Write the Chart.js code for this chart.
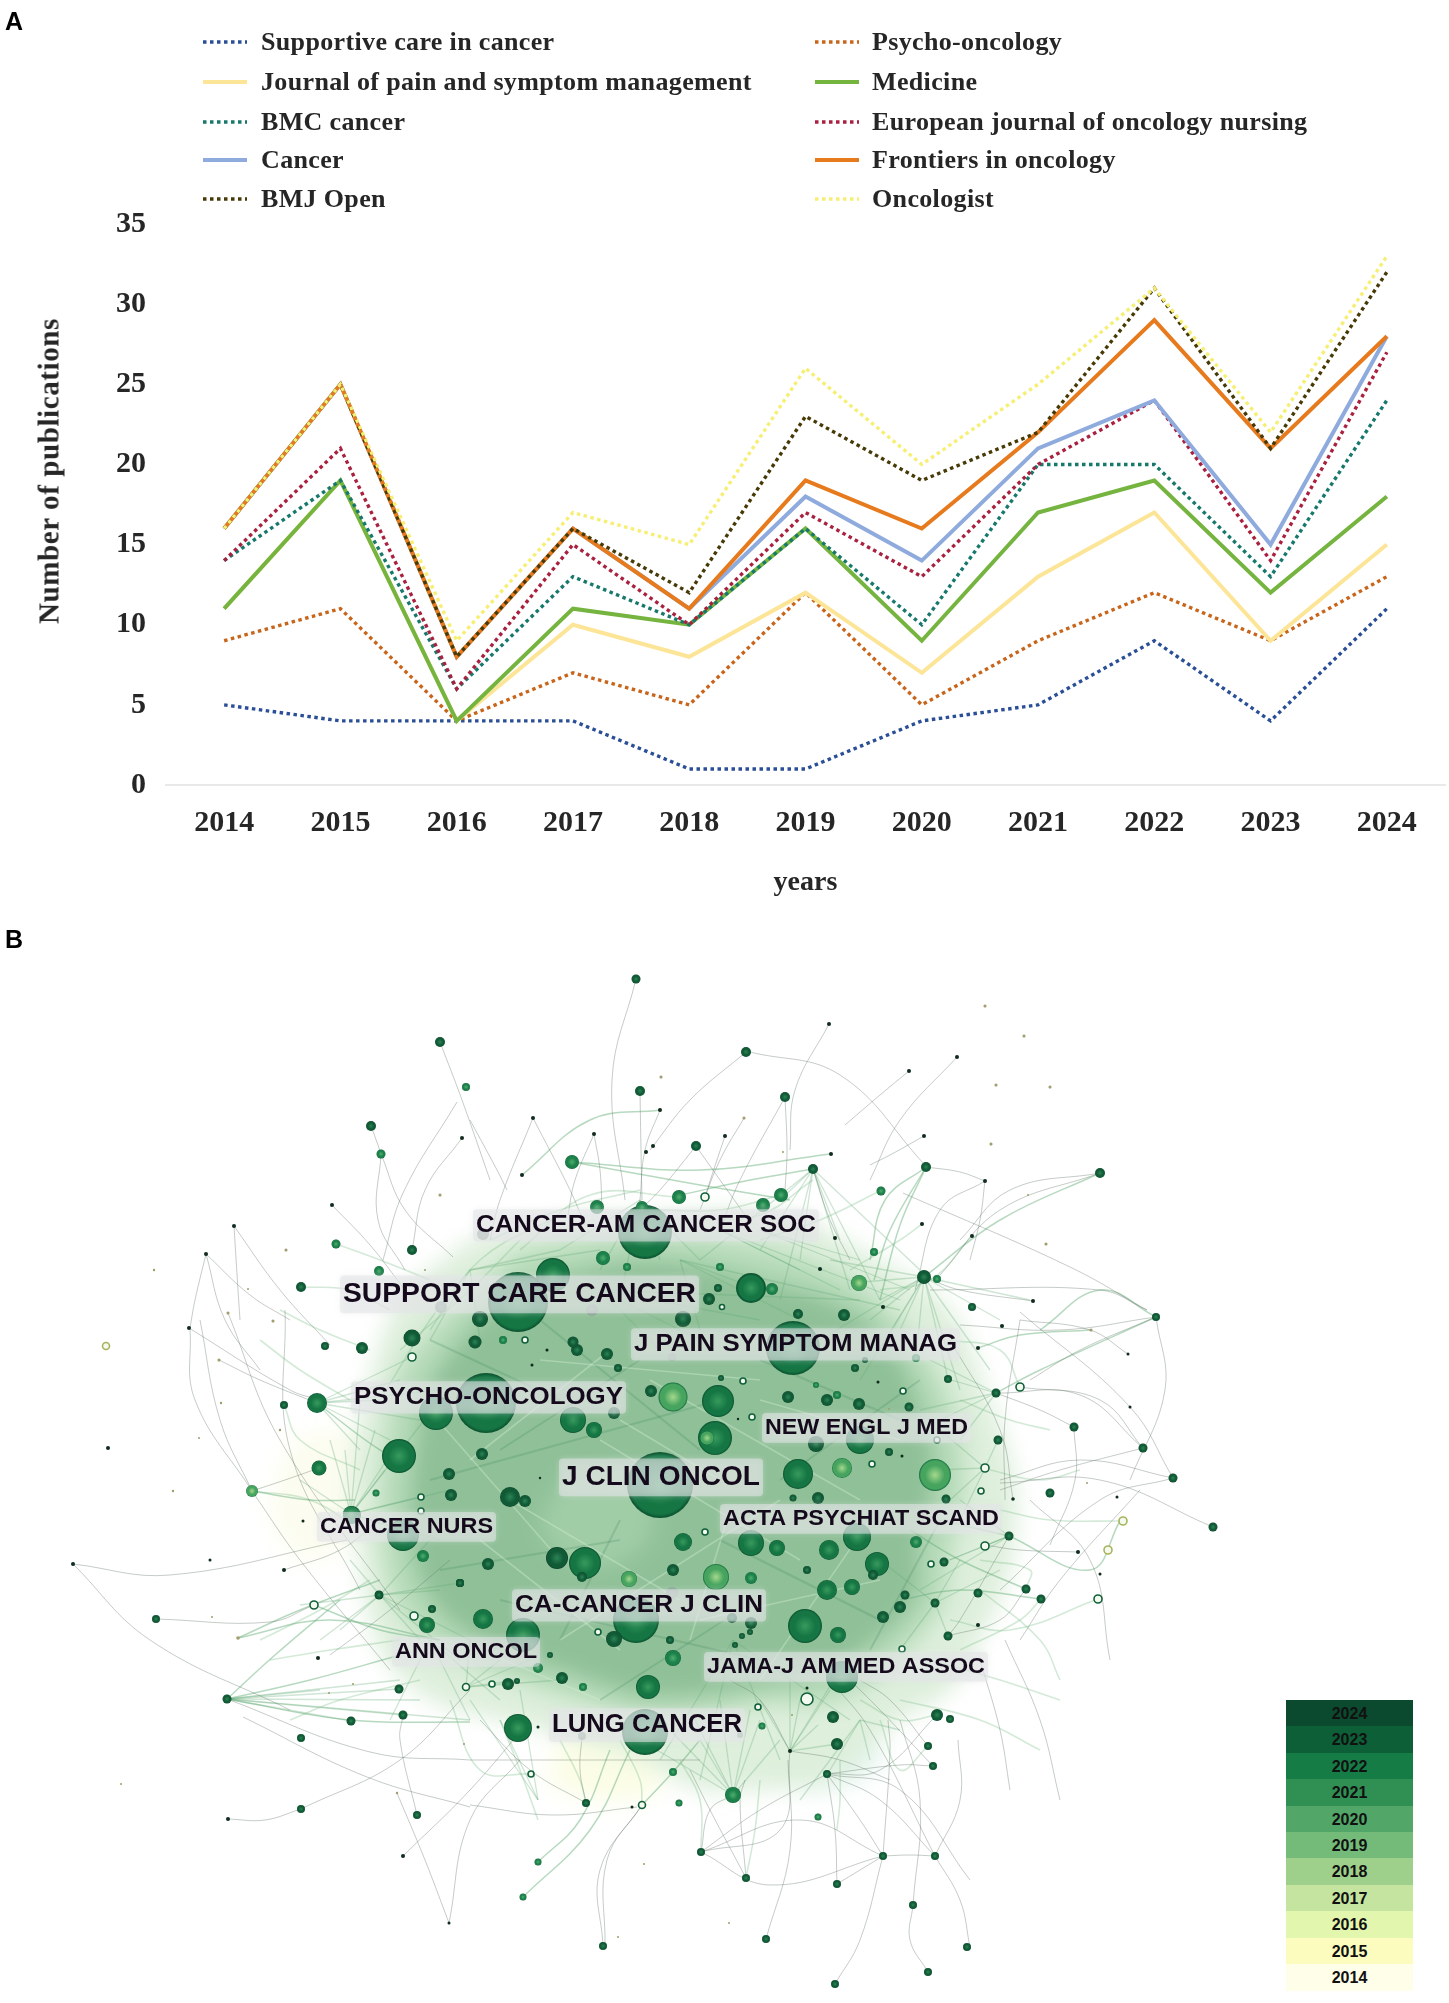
<!DOCTYPE html>
<html><head><meta charset="utf-8">
<style>
html,body{margin:0;padding:0;background:#fff;width:1449px;height:2003px;overflow:hidden}
#wrap{position:relative;width:1449px;height:2003px}
canvas{position:absolute;left:0}
.t{position:absolute;white-space:nowrap}
.serif{font-family:"Liberation Serif",serif;font-weight:bold;color:#262626}
.panel{font-family:"Liberation Sans",Arial,sans-serif;font-weight:bold;font-size:25px;color:#000;left:5px}
.cell{position:absolute;left:1286px;width:127px;height:27px;line-height:27px;text-align:center;font:bold 16px/27px "Liberation Sans",Arial,sans-serif;color:#111}
</style></head><body>
<div id="wrap">
<canvas id="a" style="top:0;width:1449px;height:920px" width="1449" height="920"></canvas>
<canvas id="haze" style="top:920px;width:1449px;height:1083px;filter:blur(11px)" width="1449" height="1083"></canvas>
<canvas id="b" style="top:920px;width:1449px;height:1083px;filter:blur(.45px)" width="1449" height="1083"></canvas>
<div id="overlay"></div>
</div>
<script src="https://cdn.jsdelivr.net/npm/chart.js@4"></script>
<script>
/* ---------- Panel A ---------- */
const years=["2014","2015","2016","2017","2018","2019","2020","2021","2022","2023","2024"];
const supportive=[5,4,4,4,1,1,4,5,9,4,11];
const psycho=[9,11,4,7,5,12,5,9,12,9,13];
const jpsm=[11,19,4,10,8,12,7,13,17,9,15];
const medicine=[11,19,4,11,10,16,9,17,19,12,18];
const bmc=[14,19,6,13,10,16,10,20,20,13,24];
const european=[14,21,6,15,10,17,13,20,24,14,27];
const cancer=[16,25,8,16,11,18,14,21,24,15,28];
const frontiers=[16,25,8,16,11,19,16,22,29,21,28];
const bmj=[16,25,8,16,12,23,19,22,31,21,32];
const oncologist=[16,25,9,17,15,26,20,25,31,22,33];
const seriesNames=["Supportive care in cancer","Psycho-oncology","Journal of pain and symptom management","Medicine","BMC cancer","European journal of oncology nursing","Cancer","Frontiers in oncology","BMJ Open","Oncologist"];
const seriesValues=[supportive,psycho,jpsm,medicine,bmc,european,cancer,frontiers,bmj,oncologist];
const seriesColors=["#2b4f96","#c9651a","#fde597","#74b43f","#17786c","#a9213f","#8fabde","#e67a1c","#473a06","#f6ef74"];
const seriesDotted=[true,true,false,false,true,true,false,false,true,true];
const yTicks=[0,5,10,15,20,25,30,35];

/* ---------- Panel B: nodes, [x, y, r] in layout units ---------- */
const nodesBlack=[[462,1138,2],[332,1205,2],[234,1226,2],[206,1254,2],[829,1024,2],[533,1118,2],[660,1110,2],[594,1134,2],[725,1136,2],[522,1175,2],[653,1146,2],[646,1152,2],[831,1154,2],[820,1269,2],[835,1238,2],[909,1071,2],[957,1057,2],[924,1136,2],[985,1181,2],[922,1224,2],[972,1236,2],[1033,1301,2],[883,1307,2],[189,1328,2],[284,1405,2.5],[108,1448,2],[73,1564,2],[210,1560,1.5],[284,1570,2],[303,1521,1.5],[318,1658,2],[228,1819,2],[403,1856,2],[449,1923,1.5],[790,1751,2],[1128,1354,1.5],[1002,1326,2],[978,1348,2],[878,1382,1.5],[902,1456,1.5],[1130,1407,1.5],[1013,1499,1.8],[1117,1497,1.5],[1078,1552,2],[1100,1574,1.5],[978,1625,2],[547,1350,1.5],[532,1365,1.5],[738,1419,1.2],[540,1478,1.2],[538,1727,1.5],[807,1688,1.5],[632,1807,1.5]];
const nodesOld=[[286,1250,1.5],[154,1270,1.2],[248,1289,1],[425,1270,1],[440,1195,1.5],[661,1077,1.5],[744,1118,1.5],[783,1152,1],[985,1006,1.5],[1024,1036,1.5],[996,1085,1.5],[1050,1087,1.5],[991,1144,1.5],[1028,1195,1],[1046,1244,1.5],[228,1313,1.5],[273,1321,1.5],[219,1360,1.5],[221,1403,1.2],[280,1430,1.2],[199,1438,1],[173,1491,1.2],[212,1617,1],[238,1638,1.8],[464,1744,1],[353,1684,1],[329,1693,1],[397,1793,1.2],[121,1784,1],[644,1864,1],[729,1923,1],[618,1937,1],[1091,1330,1.5],[889,1409,1],[1087,1483,1],[792,1715,1]];
const nodesDark=[[440,1042,5],[371,1126,5],[412,1250,5],[301,1287,5],[636,979,4.5],[746,1052,5],[640,1091,5],[785,1097,5],[696,1146,5],[813,1169,5],[926,1167,5],[1100,1173,5],[924,1277,7],[972,1307,4],[325,1346,4],[362,1348,6],[284,1405,4],[156,1619,4],[227,1699,4.5],[399,1689,4.5],[403,1715,4.5],[351,1721,4.5],[301,1738,4],[301,1809,4],[417,1815,4],[379,1595,4.5],[460,1583,4],[432,1609,4],[586,1803,4],[827,1774,4],[701,1852,4],[746,1878,4],[837,1884,4],[883,1856,4],[935,1856,4],[913,1905,4],[603,1946,4],[766,1939,4],[928,1972,4],[835,1984,4],[967,1947,4],[950,1719,4],[928,1746,4],[933,1766,4],[1156,1317,4],[948,1379,4],[996,1393,4.5],[909,1407,4.5],[1074,1427,4.5],[1143,1448,4.5],[1173,1478,4.5],[998,1440,4.5],[1213,1527,4.5],[1050,1493,4.5],[1009,1536,4.5],[944,1562,4.5],[905,1595,4.5],[935,1603,4.5],[978,1593,4.5],[1026,1589,4.5],[1041,1599,4.5],[948,1636,4.5],[889,1452,4],[946,1499,4.5],[793,1498,3.5],[855,1368,4],[865,1360,3],[827,1400,6],[798,1314,5],[844,1315,6],[607,1354,6],[618,1368,4],[482,1454,6],[449,1474,6],[451,1495,6],[488,1564,6],[460,1583,4],[379,1595,4],[525,1501,6],[510,1497,10],[557,1558,11],[582,1577,5],[673,1570,6],[807,1570,4],[742,1636,3],[735,1645,3],[750,1632,3],[670,1640,4],[550,1655,3],[517,1681,3],[508,1684,6],[562,1678,6],[721,1378,3],[788,1397,6],[859,1404,6],[816,1444,8],[614,1413,6],[651,1391,6],[577,1350,6],[573,1342,5.5],[475,1342,6.5],[412,1338,8.5],[751,1623,6],[732,1618,5],[614,1639,8],[837,1744,6],[833,1717,6],[937,1715,6],[900,1607,6],[883,1617,6],[873,1575,5],[818,1498,6],[718,1288,4],[709,1299,6],[683,1319,8],[480,1319,8]];
const nodesMid=[[466,1087,4],[381,1154,4.5],[336,1244,4.5],[379,1271,5],[572,1162,7],[679,1197,7],[781,1195,7],[763,1205,7],[597,1207,7],[642,1207,6],[603,1258,7],[627,1267,4],[720,1267,4],[772,1289,6],[881,1191,4.5],[874,1252,4],[937,1279,4],[503,1340,4],[376,1493,3.5],[351,1514,8],[423,1556,6],[460,1583,4],[673,1658,8],[733,1795,8],[818,1817,3.5],[916,1358,4],[673,1772,4],[679,1803,3.5],[762,1726,3.5],[538,1668,5],[583,1687,4],[538,1862,3.5],[523,1897,3.5],[916,1542,6],[751,1578,6],[837,1395,4],[816,1385,3]];
const nodesLarge=[[645,1232,27],[518,1302,30],[486,1403,30],[660,1485,33],[793,1348,27],[636,1620,23],[645,1732,23],[842,1677,16],[553,1275,17],[751,1288,15],[436,1413,17],[317,1403,10],[399,1456,17],[403,1535,16],[523,1635,17],[805,1626,17],[585,1563,16],[718,1401,16],[715,1438,17],[798,1474,15],[518,1728,14],[860,1440,14],[857,1537,14],[877,1564,12],[648,1687,12],[751,1543,13],[573,1420,13],[751,1288,14],[829,1550,10],[827,1590,10],[483,1619,10],[838,1635,8],[777,1548,8],[594,1430,8],[319,1468,7.5],[427,1625,8],[352,1515,9],[683,1542,9],[852,1587,8]];
const nodesLight=[[673,1397,14.5],[842,1468,10],[935,1475,16],[716,1577,13],[629,1579,8],[707,1438,7],[252,1491,6],[859,1283,8]];
const nodesGrey=[[483,1234,6],[441,1307,6],[592,1310,6],[672,1357,4],[672,1593,6],[582,1736,4],[740,1735,3]];
const ringNodes=[[705,1197,4],[412,1357,4],[525,1340,3],[722,1307,2.5],[743,1381,3],[752,1417,3],[421,1497,3],[421,1511,3],[705,1532,3],[598,1632,3],[414,1616,4],[314,1605,4],[466,1687,3.5],[492,1684,3],[758,1707,3],[807,1699,6],[531,1774,3],[642,1805,3.5],[872,1464,3],[903,1391,3],[937,1440,3],[985,1468,4],[981,1491,3],[985,1546,4],[931,1564,3],[902,1649,3],[1020,1387,4],[1098,1599,4]];
const ringsYellow=[[106,1346,3.5],[1123,1521,4],[1108,1550,4]];

/* long thin arcs: start, via point, end */
const arcsGrey=[[440,1042,462,1100,490,1180],[381,1154,405,1210,453,1257],[462,1138,425,1190,412,1250],[457,1102,403,1193,383,1260],[332,1205,370,1245,405,1290],[234,1226,238,1290,240,1320],[234,1226,280,1290,330,1345],[206,1254,250,1295,290,1320],[206,1254,195,1300,190,1328],[206,1254,225,1320,260,1370],[381,1154,378,1220,405,1270],[371,1126,378,1145,381,1154],[636,979,612,1080,625,1200],[746,1052,690,1100,650,1150],[750,1052,840,1075,925,1165],[829,1024,795,1090,790,1150],[785,1097,740,1180,720,1230],[785,1097,787,1150,785,1190],[533,1118,500,1200,490,1240],[533,1118,570,1190,585,1225],[470,1120,497,1170,507,1190],[640,1091,641,1150,642,1200],[594,1134,600,1170,602,1210],[594,1134,575,1180,568,1215],[660,1110,645,1150,640,1200],[696,1146,660,1190,640,1210],[696,1146,720,1180,745,1215],[725,1136,712,1175,705,1197],[744,1118,720,1160,700,1210],[813,1169,830,1220,850,1260],[909,1071,880,1095,845,1125],[957,1057,900,1120,870,1180],[924,1136,890,1155,870,1165],[985,1181,940,1210,915,1290],[985,1181,980,1220,970,1260],[926,1167,960,1172,985,1181],[1100,1173,1000,1210,940,1275],[1100,1173,1010,1190,960,1240],[903,1193,1070,1267,1147,1310],[924,1277,960,1290,1033,1301],[930,1290,1100,1290,1147,1310],[1020,1312,1130,1407,1173,1478],[996,1393,1080,1395,1143,1448],[1020,1387,1100,1400,1143,1448],[996,1393,1040,1410,1074,1427],[1143,1448,1060,1470,1000,1490],[1173,1478,1080,1460,1000,1480],[1000,1483,1100,1480,1213,1527],[1173,1478,1100,1500,1000,1590],[1074,1427,1075,1480,1050,1545],[1156,1317,1165,1390,1130,1480],[1156,1317,1080,1350,1030,1380],[1156,1317,1060,1330,960,1325],[1128,1354,1090,1330,1020,1320],[1020,1320,1005,1420,1005,1500],[950,1340,1000,1430,1013,1499],[1009,1536,960,1620,948,1636],[948,1636,1000,1620,1026,1589],[1078,1552,1020,1550,985,1545],[1030,1500,1090,1560,1110,1660],[1140,1490,1060,1580,1020,1640],[827,1774,880,1800,935,1856],[827,1774,860,1820,883,1856],[827,1774,900,1790,970,1880],[827,1774,835,1830,837,1884],[701,1852,760,1810,827,1774],[701,1852,800,1820,883,1856],[701,1852,780,1830,790,1751],[701,1852,710,1810,733,1795],[701,1852,770,1885,883,1856],[837,1884,860,1870,883,1856],[883,1856,910,1855,935,1856],[883,1856,890,1750,888,1720],[883,1856,860,1940,835,1984],[935,1856,870,1730,830,1680],[935,1856,960,1800,958,1740],[935,1856,960,1900,970,1947],[913,1905,920,1800,900,1720],[913,1905,910,1940,928,1972],[766,1939,790,1850,788,1760],[746,1878,740,1800,745,1780],[746,1878,710,1810,690,1770],[790,1751,760,1700,730,1680],[790,1751,840,1760,890,1780],[827,1774,900,1765,933,1766],[827,1774,880,1770,937,1715],[928,1746,890,1700,860,1680],[933,1766,880,1710,850,1680],[586,1803,530,1770,480,1720],[586,1803,580,1770,582,1736],[642,1805,600,1870,603,1946],[642,1805,607,1860,605,1946],[449,1923,425,1860,397,1793],[449,1923,470,1820,520,1760],[403,1856,470,1790,530,1720],[228,1819,265,1820,301,1809],[301,1809,400,1760,470,1690],[417,1815,400,1740,403,1715],[243,1717,367,1777,470,1807],[470,1805,553,1815,637,1807],[227,1699,370,1752,470,1760],[470,1760,550,1760,700,1760],[73,1564,150,1640,290,1710],[73,1564,170,1575,347,1540],[156,1619,270,1622,314,1605],[252,1491,300,1560,390,1670],[252,1491,195,1400,190,1330],[252,1491,220,1420,200,1320],[319,1468,285,1480,252,1491],[317,1403,260,1380,219,1360],[189,1328,290,1390,320,1400],[228,1313,280,1440,400,1610],[285,1310,290,1450,360,1590],[284,1570,340,1550,380,1520],[330,1655,390,1610,450,1560],[1005,1640,1040,1720,1060,1800],[980,1660,1000,1730,1010,1790]];
const arcsGreen=[[660,1110,590,1120,522,1175],[572,1162,700,1170,830,1154],[572,1162,700,1185,790,1200],[813,1169,750,1180,680,1195],[926,1167,885,1200,870,1260],[926,1167,890,1230,874,1280],[926,1167,900,1225,880,1300],[924,1277,1000,1220,1100,1173],[1041,1599,960,1590,900,1600],[1026,1589,960,1560,910,1530],[238,1638,300,1610,380,1580],[238,1638,330,1620,440,1640],[314,1605,380,1630,440,1640],[252,1491,310,1500,355,1500],[317,1403,380,1450,399,1456],[227,1699,350,1720,470,1722],[227,1699,310,1680,400,1655],[227,1699,275,1655,340,1600],[642,1805,673,1772,700,1740],[538,1862,580,1820,610,1750],[523,1897,590,1830,630,1750],[1009,1536,1090,1570,1120,1521],[1156,1317,1100,1290,1040,1330],[996,1393,1040,1370,1156,1317],[978,1348,1020,1335,1091,1330]];
const paleStreaks=[[490,1240,560,1210,640,1190],[520,1250,590,1195,680,1197],[430,1330,480,1260,560,1215],[400,1350,470,1290,520,1240],[380,1400,430,1320,470,1270],[660,1210,720,1210,781,1195],[700,1220,760,1215,813,1180],[760,1240,820,1220,880,1191],[850,1270,900,1240,922,1224],[880,1290,930,1280,972,1236],[950,1340,1000,1350,1020,1387],[960,1400,1010,1420,1050,1430],[990,1470,1040,1480,1080,1470],[1000,1510,1050,1520,1123,1521],[980,1560,1030,1570,1026,1589],[980,1590,1040,1640,1060,1680],[930,1660,1000,1680,1060,1700],[900,1700,980,1720,1040,1750],[960,1650,1020,1620,1041,1599],[950,1620,1010,1630,1098,1599],[360,1470,300,1440,284,1405],[360,1530,310,1500,252,1491],[370,1580,320,1610,260,1640],[400,1640,330,1650,270,1660],[420,1680,340,1700,290,1720],[350,1400,300,1370,260,1340],[370,1350,320,1330,280,1310],[390,1310,350,1290,301,1287],[430,1280,380,1260,336,1244],[500,1720,520,1770,538,1820],[560,1740,580,1780,586,1803],[620,1740,640,1780,642,1805],[680,1760,700,1800,701,1852],[760,1780,755,1830,746,1878],[840,1760,840,1800,837,1830],[880,1720,900,1770,928,1746],[860,1700,900,1720,937,1715],[450,1700,480,1770,531,1774]];
/* fans of short edges out of a hub: hub x, hub y, then the far ends */
const fans=[[351,1514,[440,1400,400,1440,375,1430,360,1400,420,1497,450,1490,300,1480,400,1530,440,1540,330,1440,385,1470,345,1450]],[317,1403,[420,1420,400,1380,380,1400,390,1440,360,1450,440,1390,412,1357]],[924,1277,[880,1350,860,1380,820,1340,850,1283,900,1330,880,1300,1000,1320,990,1370,960,1390,1030,1300,916,1358,948,1379,830,1260,870,1320]],[813,1169,[760,1250,800,1260,850,1290,780,1200,700,1260,880,1300,920,1270,840,1240,780,1300]],[733,1795,[700,1740,690,1710,720,1700,750,1710,670,1730,640,1740,760,1720,780,1740]],[790,1751,[800,1700,830,1690,760,1700,790,1680,840,1670,818,1725,837,1744]],[227,1699,[320,1690,400,1680,399,1689,351,1721,403,1715,470,1720,420,1700]],[380,1595,[430,1540,440,1590,460,1583,340,1630,320,1640,420,1640,470,1640,460,1660,350,1560,300,1605]],[1009,1536,[940,1520,950,1560,920,1590,960,1500,985,1546,944,1562]],[935,1603,[960,1560,900,1650,880,1560,1000,1570,948,1636]],[985,1468,[935,1470,940,1430,950,1500,960,1520,998,1440]],[996,1393,[930,1360,948,1379,920,1410,960,1440,940,1420]],[466,1687,[520,1680,560,1680,500,1660,470,1640,530,1660]],[640,1200,[600,1270,660,1260,700,1260,620,1300,560,1250]],[470,1270,[560,1250,600,1250,430,1340,480,1340]],[600,1290,[760,1320,860,1300,700,1340,660,1350]],[680,1260,[800,1320,900,1310,760,1290,700,1330]],[720,1230,[840,1290,900,1300,800,1270]],[760,1230,[910,1290,860,1260]],[538,1800,[500,1720,470,1700,520,1690]],[733,1640,[660,1760,780,1760,850,1720,700,1780]],[860,1720,[800,1800,830,1770,870,1760,900,1730]],[430,1640,[390,1720,470,1720,500,1700]]];
const coreLight=[[510,1500,680,1600],[600,1440,800,1560],[540,1360,760,1380],[650,1380,860,1500],[480,1540,620,1650],[560,1640,780,1500],[620,1420,720,1480],[420,1400,560,1560],[700,1620,880,1580],[760,1400,900,1440],[470,1460,610,1350],[730,1510,690,1640],[480,1650,600,1700],[870,1520,760,1680]];
const coreDark=[[430,1480,720,1400],[500,1600,760,1660],[720,1540,880,1620],[540,1320,700,1450],[620,1520,560,1640],[760,1360,900,1420],[440,1570,620,1540],[780,1480,920,1380],[600,1700,740,1610],[870,1650,940,1520],[430,1340,560,1400],[500,1450,640,1360]];
/* soft background washes */
const hazeOuter=[470,1240,560,1220,660,1215,780,1215,880,1260,950,1310,990,1400,1015,1480,1012,1560,990,1620,950,1690,900,1720,830,1780,760,1790,700,1790,640,1760,580,1740,500,1720,430,1700,380,1650,360,1560,350,1480,370,1380,400,1300];
const hazeMiddle=[520,1250,640,1235,760,1245,860,1285,915,1340,950,1400,965,1480,950,1560,940,1610,890,1665,840,1700,760,1705,700,1715,640,1715,560,1695,500,1675,440,1650,395,1600,380,1520,385,1440,400,1370,450,1310];
const hazeCore=[560,1275,650,1260,760,1280,850,1310,900,1360,925,1420,935,1480,920,1540,915,1600,870,1645,830,1670,760,1685,700,1695,640,1695,560,1670,500,1650,455,1625,420,1580,410,1520,415,1450,430,1385,470,1330,510,1300];
const hazeTint=[780,1720,860,1700,880,1760,830,1790,770,1780];
const hazeCream=[560,1740,640,1745,660,1790,600,1800,550,1780];
const hazeCreamLeft=[290,1440,350,1430,350,1540,300,1560,270,1510];
const hazePatch=[560,1480,640,1470,650,1540,590,1570,540,1530];

const netLabels=[["CANCER-AM CANCER SOC",646,1232,340,24,"bold"],["SUPPORT CARE CANCER",519.5,1302,353,28,"bold"],["J PAIN SYMPTOM MANAG",795.5,1351,323,24,"bold"],["PSYCHO-ONCOLOGY",488.5,1404,269,24,"bold"],["NEW ENGL J MED",866.5,1434,203,22,"bold"],["J CLIN ONCOL",661,1485,198,28,"bold"],["ACTA PSYCHIAT SCAND",861,1525,276,22,"bold"],["CANCER NURS",406.5,1533,173,22,"bold"],["CA-CANCER J CLIN",639,1612,248,24,"bold"],["ANN ONCOL",466,1658,142,22,"bold"],["JAMA-J AM MED ASSOC",846,1673,278,22,"bold"],["LUNG CANCER",647,1732,190,25,"bold"]];
const yearLegend=["2024","2023","2022","2021","2020","2019","2018","2017","2016","2015","2014"];
const yearColors=["#0b4a2e","#0c5f37","#167c46","#309054","#52a768","#74ba79","#9fd08b","#c5e49f","#e3f6ad","#fdfcbf","#fffee9"];

/* ---------- build the page ---------- */
Chart.defaults.animation=false;
const overlay=document.getElementById('overlay');
function addText(txt,cls,css){const d=document.createElement('div');d.className=cls;d.textContent=txt;d.style.cssText=css;overlay.appendChild(d);return d;}
addText("A","t panel","top:7px");
addText("B","t panel","top:925px");
addText("Number of publications","t serif","left:49px;top:471px;font-size:29px;letter-spacing:.6px;transform:translate(-50%,-50%) rotate(-90deg)");

seriesNames.forEach((n,i)=>{
  const col=i%2, row=(i-col)/2;
  const left=col?815:203, cy=[42,82,122,160,199][row];
  const s=document.createElementNS('http://www.w3.org/2000/svg','svg');
  s.setAttribute('width','46');s.setAttribute('height','8');
  s.style.cssText=`position:absolute;left:${left}px;top:${cy-4}px`;
  const l=document.createElementNS('http://www.w3.org/2000/svg','line');
  l.setAttribute('x1','0');l.setAttribute('x2','44');l.setAttribute('y1','4');l.setAttribute('y2','4');
  l.setAttribute('stroke',seriesColors[i]);
  l.setAttribute('stroke-width',seriesDotted[i]?'3.4':'4');
  if(seriesDotted[i])l.setAttribute('stroke-dasharray','3.5 3.5');
  s.appendChild(l);overlay.appendChild(s);
  addText(n,"t serif",`left:${col?872:261}px;top:${cy}px;font-size:26px;line-height:26px;transform:translateY(-50%);letter-spacing:.35px`);
});
yearLegend.forEach((y,i)=>{
  addText(y,"cell",`top:${1700+i*26.4}px;background:${yearColors[i]}`);
});

new Chart(document.getElementById('a'),{
  type:'line',
  data:{labels:years,datasets:seriesNames.map((n,i)=>({
    label:n,data:seriesValues[i],borderColor:seriesColors[i],backgroundColor:seriesColors[i],
    borderWidth:seriesDotted[i]?3.4:4,borderDash:seriesDotted[i]?[3.5,3.5]:[],pointRadius:0,tension:0,order:10-i,
    borderJoinStyle:'miter',borderCapStyle:'butt'}))},
  options:{responsive:false,devicePixelRatio:1,events:[],
    layout:{padding:{top:224,right:4,left:0,bottom:0}},
    plugins:{legend:{display:false},tooltip:{enabled:false}},
    scales:{
      x:{offset:true,grid:{display:false,drawTicks:false,offset:false},border:{color:'#e9e9e9',width:2},
        ticks:{color:'#262626',padding:20,font:{family:'"Liberation Serif",serif',weight:'bold',size:30},maxRotation:0,autoSkip:false},
        title:{display:true,text:'years',color:'#262626',padding:{top:24,bottom:20},font:{family:'"Liberation Serif",serif',weight:'bold',size:28}},
        afterFit(s){s.height=135;}},
      y:{min:0,max:35,grid:{display:false,drawTicks:false},border:{display:false},
        afterBuildTicks(s){s.ticks=yTicks.map(v=>({value:v}));},
        ticks:{color:'#262626',padding:20,font:{family:'"Liberation Serif",serif',weight:'bold',size:30}},
        afterFit(s){s.width=166;}}
    }}
});

const netScales={x:{type:'linear',min:0,max:1449,display:false},y:{type:'linear',min:920,max:2003,reverse:true,display:false}};
function poly(arr,color){const d=[];for(let i=0;i<arr.length;i+=2)d.push({x:arr[i],y:arr[i+1]});d.push(d[0]);
  return {type:'scatter',showLine:true,data:d,borderColor:color,borderWidth:0,backgroundColor:color,fill:'shape',pointRadius:0,tension:.35};}
new Chart(document.getElementById('haze'),{
  type:'scatter',
  data:{datasets:[poly(hazePatch,'#a0cda6'),poly(hazeCore,'#8fc097'),poly(hazeMiddle,'#b6dbb9'),poly(hazeOuter,'#deefdc'),poly(hazeTint,'#e4f4ee'),poly(hazeCream,'#fbfde6'),poly(hazeCreamLeft,'#fcfdf0')]},
  options:{responsive:false,devicePixelRatio:1,events:[],layout:{padding:0,autoPadding:false},plugins:{legend:{display:false},tooltip:{enabled:false}},scales:netScales}
});

function edge(pts,color,w,ord){return {type:'scatter',showLine:true,data:pts,borderColor:color,borderWidth:w,pointRadius:0,tension:.4,order:ord};}
const netSets=[];
const arc3=a=>[{x:a[0],y:a[1]},{x:a[2],y:a[3]},{x:a[4],y:a[5]}];
arcsGrey.forEach(a=>netSets.push(edge(arc3(a),'rgba(95,115,100,.36)',1,20)));
arcsGreen.forEach(a=>netSets.push(edge(arc3(a),'rgba(95,170,115,.45)',1.5,20)));
paleStreaks.forEach(a=>netSets.push(edge(arc3(a),'rgba(120,190,135,.32)',1.6,20)));
fans.forEach(f=>{for(let i=0;i<f[2].length;i+=2)netSets.push(edge([{x:f[0],y:f[1]},{x:f[2][i],y:f[2][i+1]}],'rgba(95,170,115,.3)',1.3,20));});
coreLight.forEach(a=>netSets.push(edge([{x:a[0],y:a[1]},{x:a[2],y:a[3]}],'rgba(210,238,210,.4)',1.6,19)));
coreDark.forEach(a=>netSets.push(edge([{x:a[0],y:a[1]},{x:a[2],y:a[3]}],'rgba(60,130,90,.22)',2,19)));

function ballFill(stops){return c=>{
  const ch=c.chart,rw=c.raw;
  if(!rw||!ch.scales.x)return stops[1];
  const px=ch.scales.x.getPixelForValue(rw.x),py=ch.scales.y.getPixelForValue(rw.y),r=rw.r||1;
  if(!Number.isFinite(px)||!Number.isFinite(py))return stops[1];
  const g=ch.ctx.createRadialGradient(px,py,0,px,py,r);
  g.addColorStop(0,stops[0]);g.addColorStop(.62,stops[1]);g.addColorStop(.88,stops[1]);g.addColorStop(1,stops[2]);return g;};}
function nodeSet(list,stops,ord){const sorted=list.slice().sort((a,b)=>b[2]-a[2]);
  return {type:'bubble',data:sorted.map(n=>({x:n[0],y:n[1],r:n[2]})),backgroundColor:ballFill(stops),borderWidth:0,hoverRadius:0,order:ord};}
function ringSet(list,edgeCol,ord){return {type:'bubble',data:list.map(n=>({x:n[0],y:n[1],r:n[2]})),backgroundColor:'#f3faef',borderColor:edgeCol,borderWidth:1.6,order:ord};}
netSets.push(nodeSet(nodesOld,['#a8a576','#a09d68','#8d8a5e'],8));
netSets.push(nodeSet(nodesBlack,['#123322','#0e2a1c','#0a1e14'],7));
netSets.push(nodeSet(nodesGrey,['#94ad9f','#8aa596','#7c9a8a'],6));
netSets.push(ringSet(ringNodes,'#11603a',5));
netSets.push(ringSet(ringsYellow,'#a8b35c',5));
netSets.push(nodeSet(nodesLarge,['#379a5c','#157644','#0a4f2d'],4));
netSets.push(nodeSet(nodesLight,['#a5d88c','#46a45f','#136b3d'],3));
netSets.push(nodeSet(nodesMid,['#4fae6f','#1b8049','#0d5a34'],2));
netSets.push(nodeSet(nodesDark,['#2c8455','#105a36','#0a3f27'],1));

const labelPlugin={id:'netLabels',afterDatasetsDraw(ch){
  const c=ch.ctx,sx=ch.scales.x,sy=ch.scales.y;
  netLabels.forEach(l=>{
    const x=sx.getPixelForValue(l[1]),y=sy.getPixelForValue(l[2]),w=l[3],h=l[4];
    c.save();
    c.shadowColor='rgba(226,228,230,.7)';c.shadowBlur=6;c.fillStyle='rgba(226,228,230,.56)';
    c.beginPath();c.roundRect(x-w/2-3,y-h*.95,w+6,h*1.35,4);c.fill();
    c.restore();
    c.save();
    c.font=`${l[5]} ${h}px "Liberation Sans",Arial,sans-serif`;
    c.textAlign='left';c.textBaseline='alphabetic';
    const m=c.measureText(l[0]).width;
    c.translate(x-w/2,y);c.scale(w/m,1);
    c.fillStyle='#140a1c';c.fillText(l[0],0,0);
    c.restore();
  });
}};
new Chart(document.getElementById('b'),{
  type:'bubble',data:{datasets:netSets},plugins:[labelPlugin],
  options:{responsive:false,devicePixelRatio:1,events:[],layout:{padding:0,autoPadding:false},plugins:{legend:{display:false},tooltip:{enabled:false}},scales:netScales}
});
</script>
</body></html>
